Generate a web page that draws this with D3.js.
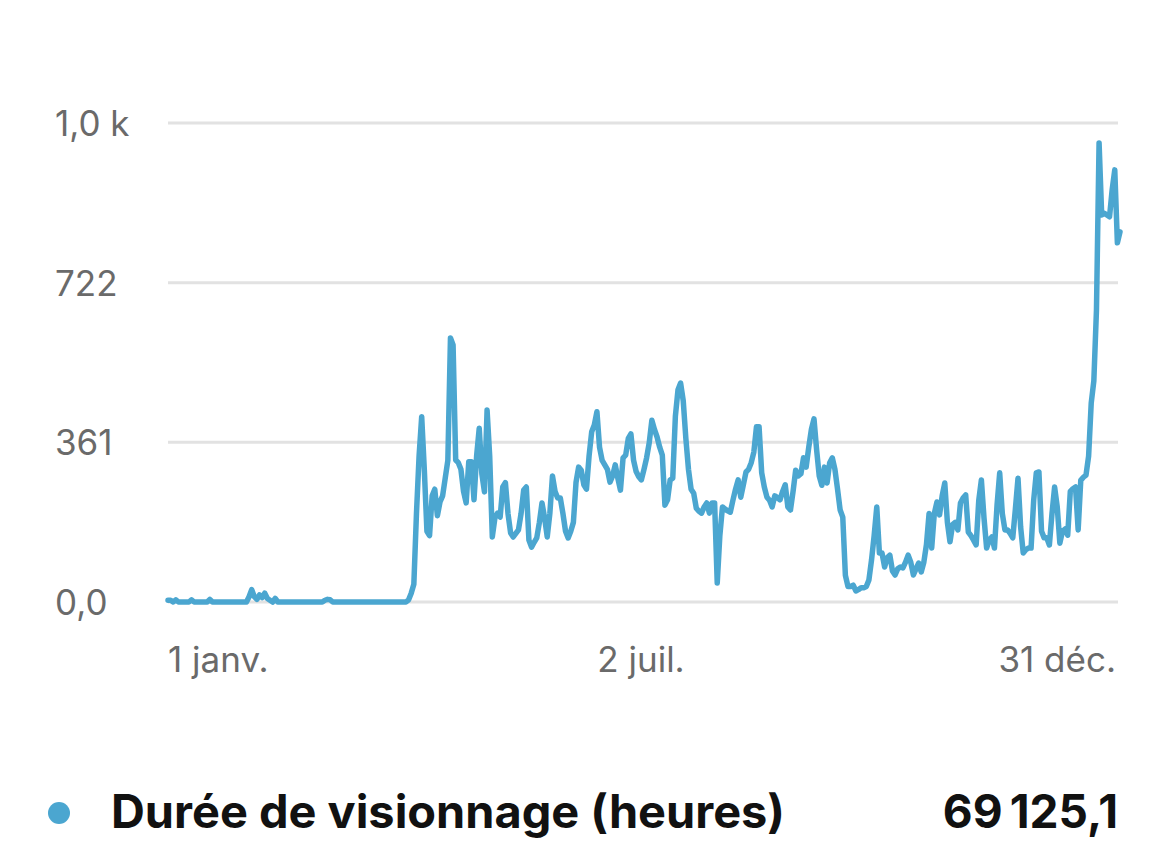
<!DOCTYPE html>
<html><head><meta charset="utf-8">
<script src="https://cdn.jsdelivr.net/npm/d3@7"></script>
<style>body{margin:0;background:#fff}svg{display:block}</style>
</head><body><svg id="c" width="1170" height="849"></svg>
<script>
const seriesName = "Durée de visionnage (heures)";
const seriesTotal = "69\u202F125,1";
const startYear = 2023;
const values = [
4,4,0,5,0,0,0,0,0,5,
0,0,0,0,0,0,6,0,0,0,
0,0,0,0,0,0,0,0,0,0,
0,12,28,12,6,16,10,20,8,4,
0,8,0,0,0,0,0,0,0,0,
0,0,0,0,0,0,0,0,0,0,
4,6,5,0,0,0,0,0,0,0,
0,0,0,0,0,0,0,0,0,0,
0,0,0,0,0,0,0,0,0,0,
0,0,5,20,40,200,330,419,300,160,
150,240,255,195,226,240,280,320,597,581,
321,315,300,250,224,317,317,231,330,393,
290,249,434,330,147,190,201,192,260,270,
200,156,147,155,163,200,253,260,140,124,
135,145,180,224,190,147,200,285,250,235,
235,200,160,145,160,180,270,305,298,265,
255,330,385,400,430,350,320,310,300,271,
285,310,280,253,326,332,370,380,321,295,
283,276,300,326,360,411,390,373,350,332,
219,231,276,280,420,480,495,455,370,300,
255,246,212,205,201,215,224,201,224,224,
43,150,215,210,206,203,230,255,276,237,
265,294,300,315,339,396,396,292,260,237,
230,215,240,236,231,250,265,215,208,250,
298,285,290,326,305,350,390,414,344,285,
264,305,269,315,326,300,255,208,192,60,
35,35,38,25,28,32,32,35,50,95,
150,215,111,111,79,100,106,70,61,75,
79,77,90,106,90,61,75,88,68,90,
130,200,122,200,226,197,240,269,180,136,
175,180,163,224,235,242,158,150,140,129,
230,276,190,122,140,147,122,220,292,200,
163,163,155,145,210,280,170,111,118,122,
122,230,292,294,160,145,145,129,200,260,
215,133,160,165,151,250,256,260,163,275,
282,287,330,450,500,660,1038,875,879,875,
871,932,977,812,837
];
const yTickValues = [0, 361, 722, 1083];
const yTickLabels = ["0,0", "361", "722", "1,0 k"];
const xTickDays = [[0, 1], [6, 2], [11, 31]]; // [month, day]
const xTickLabels = ["1 janv.", "2 juil.", "31 déc."];

const color = "#4ba6d0";
const font = "Inter, 'Noto Sans', sans-serif";
const svg = d3.select("#c");

const dates = values.map((v, i) => d3.timeDay.offset(new Date(startYear, 0, 1), i));
const x = d3.scaleTime().domain([dates[0], dates[dates.length - 1]]).range([168, 1120]);
const y = d3.scaleLinear().domain([0, 1083]).range([602, 123]);

// grid
svg.append("g").selectAll("line").data(yTickValues).join("line")
  .attr("x1", 168).attr("x2", 1118)
  .attr("y1", d => y(d)).attr("y2", d => y(d))
  .attr("stroke", "#e2e2e2").attr("stroke-width", 3);

// y labels
svg.append("g").selectAll("text").data(yTickValues).join("text")
  .attr("x", 55).attr("y", d => y(d))
  .attr("dominant-baseline", "central")
  .attr("font-family", font).attr("font-size", 35)
  .attr("fill", "#6a6a6a")
  .text((d, i) => yTickLabels[i]);

// x labels
const anchors = ["start", "middle", "end"];
const nudges = [0, -3, -4];
svg.append("g").selectAll("text").data(xTickDays).join("text")
  .attr("x", (d, i) => x(new Date(startYear, d[0], d[1])) + nudges[i])
  .attr("y", 672)
  .attr("text-anchor", (d, i) => anchors[i])
  .attr("font-family", font).attr("font-size", 35)
  .attr("fill", "#6a6a6a")
  .text((d, i) => xTickLabels[i]);

// line
const line = d3.line().x((d, i) => x(dates[i])).y(d => y(d)).curve(d3.curveLinear);
svg.append("path").datum(values)
  .attr("d", line)
  .attr("fill", "none").attr("stroke", color)
  .attr("stroke-width", 5.5).attr("stroke-linejoin", "round").attr("stroke-linecap", "round");

// legend
svg.append("circle").attr("cx", 59).attr("cy", 813).attr("r", 11).attr("fill", color);
svg.append("text").attr("x", 111).attr("y", 828)
  .attr("font-family", font).attr("font-weight", 700).attr("font-size", 46)
  .attr("textLength", 674).attr("lengthAdjust", "spacingAndGlyphs")
  .attr("fill", "#111").text(seriesName);
svg.append("text").attr("x", 1118).attr("y", 828)
  .attr("text-anchor", "end")
  .attr("font-family", font).attr("font-weight", 700).attr("font-size", 46)
  .attr("fill", "#111").text(seriesTotal);
</script>
</body></html>
